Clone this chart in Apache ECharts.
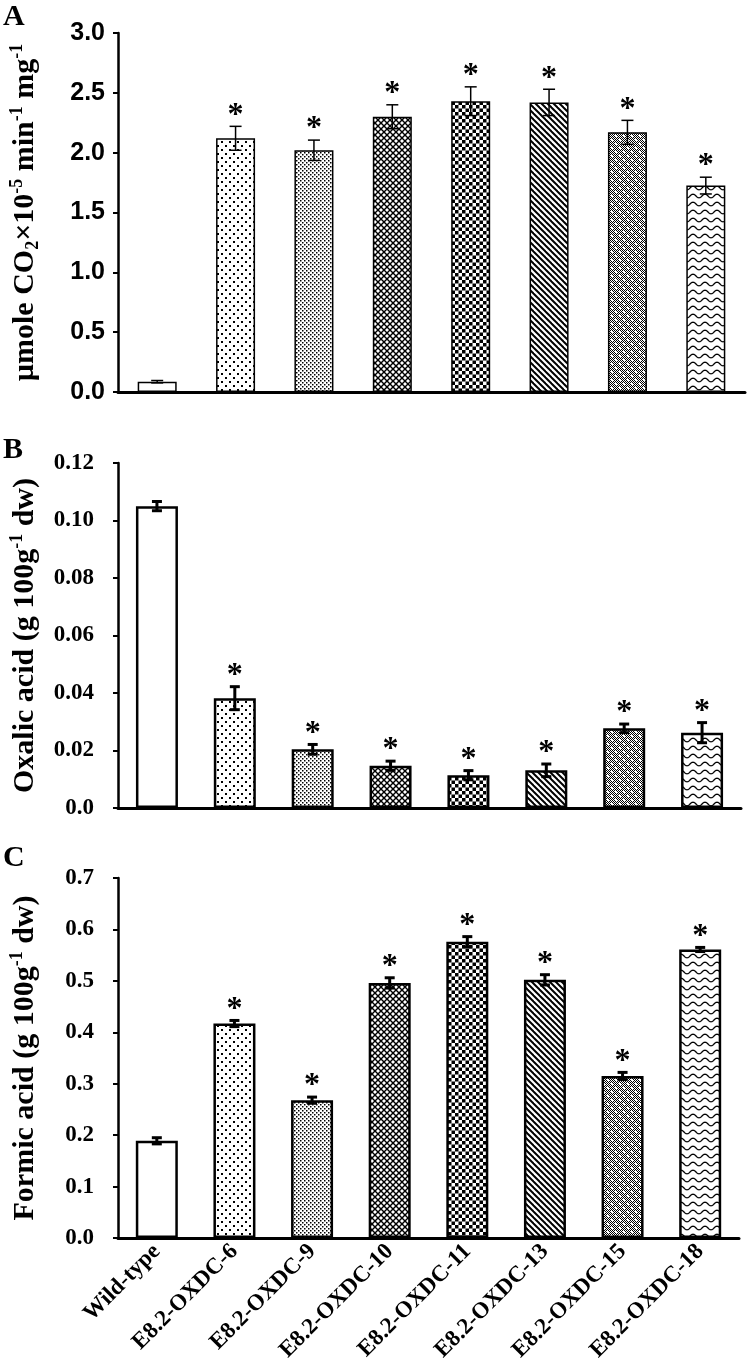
<!DOCTYPE html>
<html>
<head>
<meta charset="utf-8">
<script src="https://cdn.jsdelivr.net/npm/echarts/dist/echarts.min.js"></script>
<style>
html,body{margin:0;padding:0;background:#fff;}
#chart{width:747px;height:1372px;}
</style>
</head>
<body>
<div id="chart"></div>
<script>
// ---------------- data ----------------
var categories = ['Wild-type','E8.2-OXDC-6','E8.2-OXDC-9','E8.2-OXDC-10','E8.2-OXDC-11','E8.2-OXDC-13','E8.2-OXDC-15','E8.2-OXDC-18'];
var co2Values    = [0.086, 2.12, 2.02, 2.30, 2.43, 2.42, 2.17, 1.725];
var co2Errors    = [0.010, 0.10, 0.085, 0.10, 0.12, 0.11, 0.10, 0.07];
var oxalicValues = [0.105, 0.0382, 0.0204, 0.0147, 0.0114, 0.0131, 0.0277, 0.0262];
var oxalicErrors = [0.0016, 0.0040, 0.0017, 0.0016, 0.0016, 0.0022, 0.0015, 0.0035];
var formicValues = [0.189, 0.417, 0.268, 0.496, 0.576, 0.502, 0.315, 0.561];
var formicErrors = [0.006, 0.006, 0.006, 0.010, 0.010, 0.010, 0.007, 0.004];
var significant  = [0, 1, 1, 1, 1, 1, 1, 1];
var co2Ticks    = {min: 0, max: 3.0, interval: 0.5};
var oxalicTicks = {min: 0, max: 0.12, interval: 0.02};
var formicTicks = {min: 0, max: 0.7, interval: 0.1};

// ---------------- patterns ----------------
function tile(w, h, draw) {
  var c = document.createElement('canvas');
  c.width = w; c.height = h;
  var g = c.getContext('2d');
  g.fillStyle = '#fff'; g.fillRect(0, 0, w, h);
  g.fillStyle = '#000'; g.strokeStyle = '#000';
  draw(g, w, h);
  return {image: c, repeat: 'repeat'};
}
var patterns = [
  '#ffffff',
  tile(8, 8, function (g) { g.fillRect(1, 1, 2, 2); g.fillRect(5, 5, 2, 2); }),
  tile(4, 4, function (g) { g.fillRect(0, 0, 1.5, 1.5); g.fillRect(2, 2, 1.5, 1.5); }),
  tile(6, 6, function (g) {
    g.lineWidth = 1.4;
    for (var k = -6; k <= 6; k += 6) {
      g.beginPath(); g.moveTo(k, 0); g.lineTo(k + 6, 6); g.stroke();
      g.beginPath(); g.moveTo(k + 6, 0); g.lineTo(k, 6); g.stroke();
    }
  }),
  tile(7, 7, function (g) { g.fillRect(0, 0, 3.5, 3.5); g.fillRect(3.5, 3.5, 3.5, 3.5); }),
  tile(6, 6, function (g) {
    g.lineWidth = 2;
    for (var k = -6; k <= 6; k += 6) {
      g.beginPath(); g.moveTo(k - 1, -1); g.lineTo(k + 7, 7); g.stroke();
    }
  }),
  tile(8, 8, function (g) {
    for (var x = 0; x < 8; x++) for (var y = 0; y < 8; y++) if ((x + y) % 2 === 0) g.fillRect(x, y, 1, 1);
    g.fillStyle = '#fff'; g.fillRect(3, 3, 2, 2); g.fillRect(7, 7, 1, 1); g.fillRect(0, 0, 1, 1); g.fillRect(7, 0, 1, 1); g.fillRect(0, 7, 1, 1);
  }),
  tile(12, 8, function (g) {
    g.lineWidth = 1.3;
    for (var oy = -8; oy <= 8; oy += 8) {
      g.beginPath();
      for (var x = -1; x <= 13; x += 0.5) {
        var y = oy + 4 + 1.8 * Math.sin(2 * Math.PI * x / 12);
        if (x === -1) g.moveTo(x, y); else g.lineTo(x, y);
      }
      g.stroke();
    }
  })
];

var SERIF = '"Liberation Serif", "Times New Roman", serif';
var SANS = '"Liberation Sans", Arial, sans-serif';

function barSeries(idx, values, bw, border) {
  return {
    type: 'bar', xAxisIndex: idx, yAxisIndex: idx, barWidth: bw, z: 2,
    data: values.map(function (v, i) {
      return {value: v, itemStyle: {color: patterns[i], borderColor: '#000', borderWidth: border}};
    })
  };
}
function errSeries(idx, values, errors, lw, capW, starGap, starSize) {
  return {
    type: 'custom', xAxisIndex: idx, yAxisIndex: idx, z: 5, clip: false,
    encode: {x: 0, y: 1},
    data: values.map(function (v, i) { return [i, v, errors[i], significant[i]]; }),
    renderItem: function (params, api) {
      var x = api.value(0), v = api.value(1), e = api.value(2), s = api.value(3);
      var t = api.coord([x, v + e]), b = api.coord([x, v - e]);
      var st = {stroke: '#000', lineWidth: lw};
      var ch = [
        {type: 'line', shape: {x1: t[0], y1: t[1], x2: b[0], y2: b[1]}, style: st},
        {type: 'line', shape: {x1: t[0] - capW / 2, y1: t[1], x2: t[0] + capW / 2, y2: t[1]}, style: st},
        {type: 'line', shape: {x1: b[0] - capW / 2, y1: b[1], x2: b[0] + capW / 2, y2: b[1]}, style: st}
      ];
      if (s) ch.push({type: 'text', x: t[0], y: t[1] - starGap,
        style: {text: '*', fill: '#000', font: 'bold ' + starSize + 'px ' + SERIF, align: 'center', verticalAlign: 'middle'}});
      return {type: 'group', children: ch};
    }
  };
}
function yAxis(idx, ticks, name, fontFamily, fontSize, margin, fmt, nameGap) {
  return {
    type: 'value', gridIndex: idx, min: ticks.min, max: ticks.max, interval: ticks.interval,
    name: name, nameLocation: 'middle', nameRotate: 90, nameGap: nameGap,
    nameTextStyle: {
      rich: {
        t: {fontFamily: SERIF, fontWeight: 'bold', fontSize: 30, color: '#000', lineHeight: 34},
        sp: {fontFamily: SERIF, fontWeight: 'bold', fontSize: 18, color: '#000', verticalAlign: 'top', lineHeight: 18},
        sb: {fontFamily: SERIF, fontWeight: 'bold', fontSize: 18, color: '#000', verticalAlign: 'bottom', lineHeight: 18}
      }
    },
    axisLine: {show: true, lineStyle: {color: '#000', width: 2.5}},
    axisTick: {show: true, length: 5, lineStyle: {color: '#000', width: 2}},
    splitLine: {show: false},
    axisLabel: {fontFamily: fontFamily, fontWeight: 'bold', fontSize: fontSize, color: '#000', margin: margin, formatter: fmt}
  };
}
function xAxis(idx, showLabels) {
  return {
    type: 'category', gridIndex: idx, data: categories,
    axisLine: {show: true, lineStyle: {color: '#000', width: 3}},
    axisTick: {show: false},
    axisLabel: showLabels ? {show: true, interval: 0, rotate: 45, fontFamily: SERIF, fontWeight: 'bold', fontSize: 23, color: '#000', margin: 10} : {show: false}
  };
}

var option = {
  backgroundColor: '#fff',
  animation: false,
  title: [
    {text: 'A', left: 3, top: 2, padding: 0, textStyle: {fontFamily: SERIF, fontWeight: 'bold', fontSize: 30, color: '#000'}},
    {text: 'B', left: 3, top: 435, padding: 0, textStyle: {fontFamily: SERIF, fontWeight: 'bold', fontSize: 30, color: '#000'}},
    {text: 'C', left: 3, top: 843, padding: 0, textStyle: {fontFamily: SERIF, fontWeight: 'bold', fontSize: 30, color: '#000'}}
  ],
  grid: [
    {left: 113, top: 33, width: 632, height: 359},
    {left: 112, top: 463, width: 629, height: 345},
    {left: 112, top: 878, width: 627, height: 360}
  ],
  xAxis: [xAxis(0, false), xAxis(1, false), xAxis(2, true)],
  yAxis: [
    yAxis(0, co2Ticks, '{t|µmole CO}{sb|2}{t|×10}{sp|-5}{t| min}{sp|-1}{t| mg}{sp|-1}', SANS, 25, 13,
      function (v) { return v.toFixed(1); }, 76),
    yAxis(1, oxalicTicks, '{t|Oxalic acid (g 100g}{sp|-1}{t| dw)}', SERIF, 23, 24,
      function (v) { return v === 0 ? '0.0' : v.toFixed(2); }, 76),
    yAxis(2, formicTicks, '{t|Formic acid (g 100g}{sp|-1}{t| dw)}', SERIF, 23, 24,
      function (v) { return v.toFixed(1); }, 76)
  ],
  series: [
    barSeries(0, co2Values, 39, 1.5),
    errSeries(0, co2Values, co2Errors, 1.5, 12, 11, 32),
    barSeries(1, oxalicValues, 42, 2.5),
    errSeries(1, oxalicValues, oxalicErrors, 3, 10, 11, 32),
    barSeries(2, formicValues, 42, 2.5),
    errSeries(2, formicValues, formicErrors, 3, 10, 11, 32)
  ]
};
var chart = echarts.init(document.getElementById('chart'), null, {renderer: 'canvas'});
chart.setOption(option);
</script>
</body>
</html>
